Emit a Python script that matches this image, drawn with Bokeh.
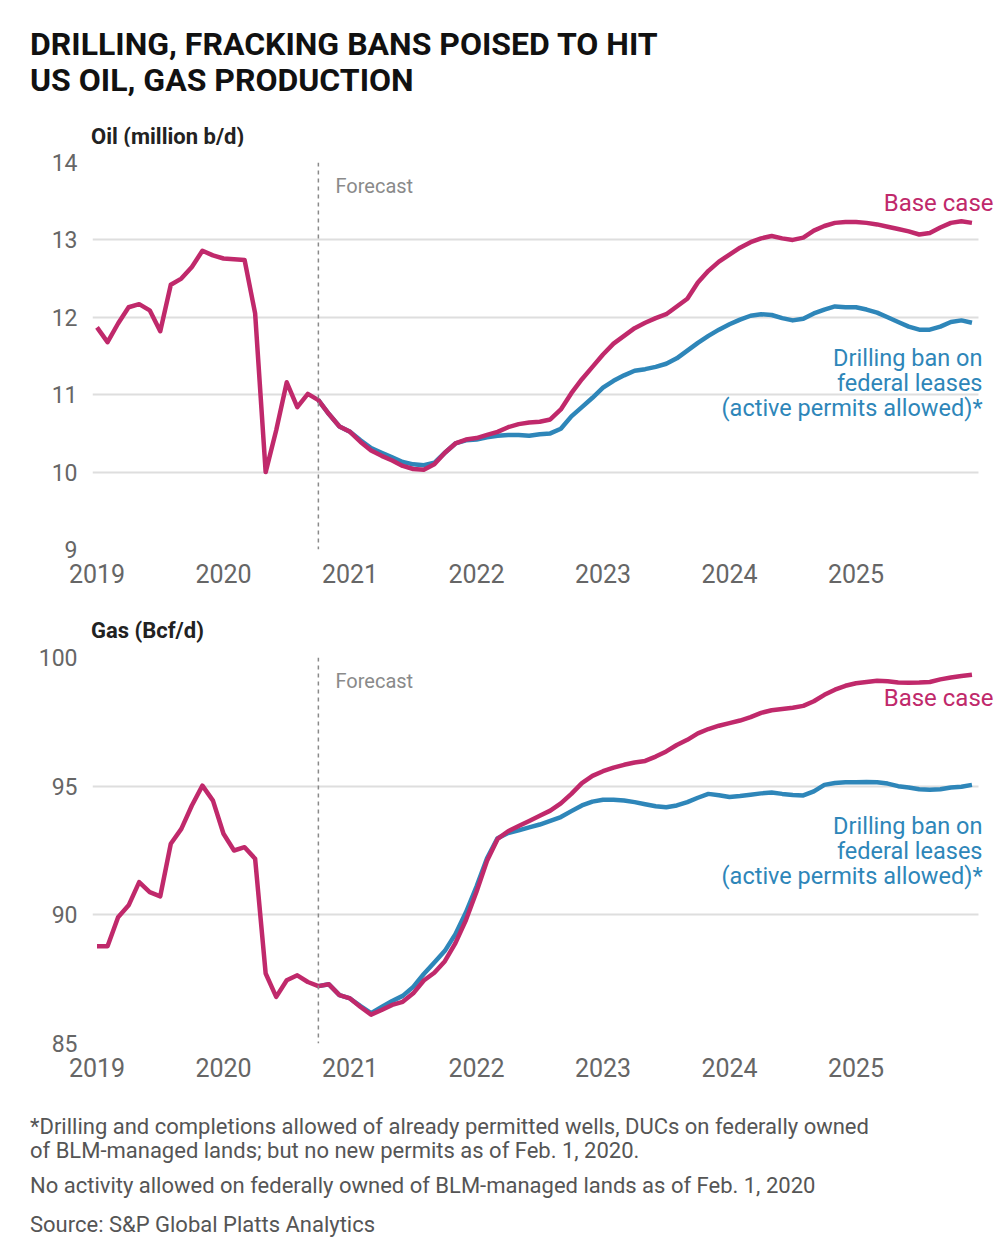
from bokeh.plotting import figure
from bokeh.models import Label, Span, FixedTicker, Range1d, Div
from bokeh.layouts import column
from bokeh.embed import file_html
from bokeh.resources import INLINE

# ---------------- data ----------------
months = [2019 + i / 12 for i in range(84)]  # Jan 2019 .. Dec 2025
ban_start = 21  # index where the ban scenario starts (Oct 2020)

oil_base = [11.87, 11.68, 11.92, 12.13, 12.17, 12.09, 11.82, 12.42, 12.50, 12.65, 12.86, 12.80,
            12.76, 12.75, 12.74, 12.05, 10.00, 10.54, 11.16, 10.84, 11.01, 10.93, 10.75, 10.59,
            10.52, 10.39, 10.28, 10.21, 10.15, 10.08, 10.04, 10.03, 10.10, 10.25, 10.37, 10.42,
            10.44, 10.48, 10.52, 10.58, 10.62, 10.64, 10.65, 10.68, 10.81, 11.02, 11.20, 11.36,
            11.52, 11.66, 11.76, 11.86, 11.93, 11.99, 12.04, 12.14, 12.24, 12.45, 12.60, 12.72,
            12.81, 12.90, 12.97, 13.02, 13.05, 13.02, 13.00, 13.03, 13.12, 13.18, 13.22, 13.23,
            13.23, 13.22, 13.20, 13.17, 13.14, 13.11, 13.07, 13.09, 13.16, 13.22, 13.24, 13.22]

oil_ban = [10.93, 10.75, 10.59,
           10.52, 10.41, 10.31, 10.25, 10.19, 10.13, 10.10, 10.09, 10.12, 10.25, 10.37, 10.41,
           10.42, 10.45, 10.47, 10.48, 10.48, 10.47, 10.49, 10.50, 10.56, 10.72, 10.84, 10.96,
           11.09, 11.18, 11.25, 11.31, 11.33, 11.36, 11.40, 11.47, 11.57, 11.67, 11.76, 11.84,
           11.91, 11.97, 12.02, 12.04, 12.03, 11.99, 11.96, 11.98, 12.05, 12.10, 12.14, 12.13,
           12.13, 12.10, 12.06, 12.00, 11.94, 11.88, 11.84, 11.84, 11.88, 11.94, 11.96, 11.93]

gas_base = [88.78, 88.78, 89.91, 90.37, 91.27, 90.88, 90.72, 92.76, 93.34, 94.25, 95.02, 94.44,
            93.15, 92.50, 92.63, 92.18, 87.72, 86.81, 87.46, 87.65, 87.39, 87.23, 87.30, 86.88,
            86.75, 86.42, 86.12, 86.30, 86.50, 86.62, 86.95, 87.45, 87.75, 88.20, 88.90, 89.80,
            90.90, 92.10, 92.95, 93.25, 93.45, 93.65, 93.85, 94.05, 94.33, 94.70, 95.12, 95.40,
            95.58, 95.72, 95.83, 95.92, 95.98, 96.15, 96.35, 96.60, 96.80, 97.05, 97.22, 97.35,
            97.45, 97.55, 97.68, 97.85, 97.95, 98.00, 98.05, 98.12, 98.30, 98.55, 98.75, 98.90,
            99.00, 99.05, 99.10, 99.08, 99.03, 99.02, 99.03, 99.05, 99.15, 99.22, 99.28, 99.33]

gas_ban = [87.23, 87.30, 86.88,
           86.75, 86.45, 86.18, 86.42, 86.65, 86.85, 87.20, 87.70, 88.15, 88.60, 89.25, 90.10,
           91.10, 92.20, 92.98, 93.18, 93.28, 93.40, 93.51, 93.65, 93.80, 94.03, 94.25, 94.40,
           94.47, 94.47, 94.44, 94.38, 94.30, 94.22, 94.18, 94.25, 94.38, 94.55, 94.70, 94.65,
           94.58, 94.62, 94.67, 94.72, 94.75, 94.70, 94.66, 94.64, 94.80, 95.05, 95.12, 95.15,
           95.15, 95.16, 95.15, 95.10, 95.00, 94.95, 94.88, 94.86, 94.88, 94.95, 94.98, 95.05]

year_ticks = [2019, 2020, 2021, 2022, 2023, 2024, 2025]
year_labels = ["2019", "2020", "2021", "2022", "2023", "2024", "2025"]
oil_ticks = [9, 10, 11, 12, 13, 14]
gas_ticks = [85, 90, 95, 100]
forecast_start = 2020.75

title_lines = ["DRILLING, FRACKING BANS POISED TO HIT", "US OIL, GAS PRODUCTION"]
oil_title = "Oil (million b/d)"
gas_title = "Gas (Bcf/d)"
ban_label = ["Drilling ban on", "federal leases", "(active permits allowed)*"]
notes = ["*Drilling and completions allowed of already permitted wells, DUCs on federally owned",
         "of BLM-managed lands; but no new permits as of Feb. 1, 2020.",
         "No activity allowed on federally owned of BLM-managed lands as of Feb. 1, 2020",
         "Source: S&P Global Platts Analytics"]

# ---------------- style ----------------
RED = "#c0296b"
BLUE = "#2e86b9"
FONT = "Roboto"
W = 1000
FL, FR = 92, 994          # frame left/right (page px); gridlines stop at 978
PX_PER_YEAR = 126.5
X0 = 2019 - (96.5 - FL) / PX_PER_YEAR
X1 = X0 + (FR - FL) / PX_PER_YEAR
GRID_END = X0 + (978 - FL) / PX_PER_YEAR


def html_escape(s):
    return s.replace("&", "&amp;").replace("<", "&lt;").replace(">", "&gt;")


def text_div(height, items):
    # items: (left px, center y px, text, font size px, color, weight)
    parts = []
    for x, cy, t, size, color, weight in items:
        parts.append(
            f'<div style="position:absolute;left:{x}px;top:{cy - size / 2}px;'
            f'font-family:{FONT},sans-serif;font-size:{size}px;line-height:{size}px;'
            f'font-weight:{weight};color:{color};white-space:nowrap;">{html_escape(t)}</div>')
    html = (f'<div style="position:relative;width:{W}px;height:{height}px;overflow:visible;">'
            + "".join(parts) + "</div>")
    return Div(text=html, width=W, height=height, margin=0)


def make_fig(ymin, ymax, yticks, height, btop, bbot):
    p = figure(width=W, height=height, x_range=Range1d(X0, X1), y_range=Range1d(ymin, ymax),
               output_backend="svg", toolbar_location=None,
               min_border_left=FL, min_border_right=W - FR,
               min_border_top=btop, min_border_bottom=bbot)
    p.outline_line_color = None
    p.xgrid.visible = False
    p.ygrid.ticker = FixedTicker(ticks=yticks)
    p.ygrid.grid_line_color = "#dedede"
    p.ygrid.grid_line_width = 2
    if "cross_bounds" in p.ygrid.properties():
        p.ygrid.cross_bounds = (X0, GRID_END)
    for ax in (p.xaxis, p.yaxis):
        ax.axis_line_color = None
        ax.major_tick_line_color = None
        ax.minor_tick_line_color = None
        ax.major_label_text_font = FONT
        ax.major_label_text_color = "#666666"
    p.xaxis.major_label_text_font_size = "25px"
    p.yaxis.major_label_text_font_size = "23px"
    p.xaxis.ticker = FixedTicker(ticks=year_ticks)
    p.xaxis.major_label_overrides = {t: l for t, l in zip(year_ticks, year_labels)}
    p.xaxis.major_label_standoff = 8
    p.yaxis.ticker = FixedTicker(ticks=yticks)
    p.yaxis.major_label_standoff = 9
    p.add_layout(Span(location=forecast_start, dimension="height", line_color="#8a8a8a",
                      line_dash="4 4", line_width=1.5))
    return p


def add_text(p, x, y, text, size, color, align="left"):
    # x, y: canvas pixels (top-left origin) of the text anchor
    p.add_layout(Label(x=x, y=y, x_units="canvas", y_units="canvas", text=text,
                       text_font=FONT, text_font_size=size,
                       text_color=color, text_align=align, text_baseline="middle"))


def draw_series(p, base, ban):
    p.line(months[ban_start:], ban, line_color=BLUE, line_width=4.5, line_join="round")
    p.line(months, base, line_color=RED, line_width=4.5, line_join="round")


# page rows: header 0-146, oil 146-600, gas header 600-643, gas 643-1095, notes 1095-1250
T0, T1, T2, T3, T4, T5 = 0, 146, 600, 643, 1095, 1250

hdr = text_div(T1 - T0, [
    (30, 44, title_lines[0], 32, "#111111", 700),
    (30, 80, title_lines[1], 32, "#111111", 700),
    (91, 137, oil_title, 22, "#222222", 700),
])

p1 = make_fig(9, 14, oil_ticks, T2 - T1, 162 - T1, T2 - 549)
draw_series(p1, oil_base, oil_ban)
add_text(p1, 335, 185 - T1, "Forecast", "20px", "#8a8a8a")
add_text(p1, 993, 202 - T1, "Base case", "24px", RED, align="right")
for i, t in enumerate(ban_label):
    add_text(p1, 982, 357 + 25 * i - T1, t, "23.5px", BLUE, align="right")

hdr2 = text_div(T3 - T2, [(91, 631 - T2, gas_title, 22, "#222222", 700)])

p2 = make_fig(85, 100, gas_ticks, T4 - T3, 657 - T3, T4 - 1043)
draw_series(p2, gas_base, gas_ban)
add_text(p2, 335, 680 - T3, "Forecast", "20px", "#8a8a8a")
add_text(p2, 993, 697 - T3, "Base case", "24px", RED, align="right")
for i, t in enumerate(ban_label):
    add_text(p2, 982, 825 + 25 * i - T3, t, "23.5px", BLUE, align="right")

ftr = text_div(T5 - T4, [(30, py - T4, t, 22, "#555555", 400)
                         for t, py in zip(notes, [1127, 1151, 1186, 1225])])

layout = column(hdr, p1, hdr2, p2, ftr, spacing=0)
open("out.html", "w").write(file_html(layout, INLINE))
